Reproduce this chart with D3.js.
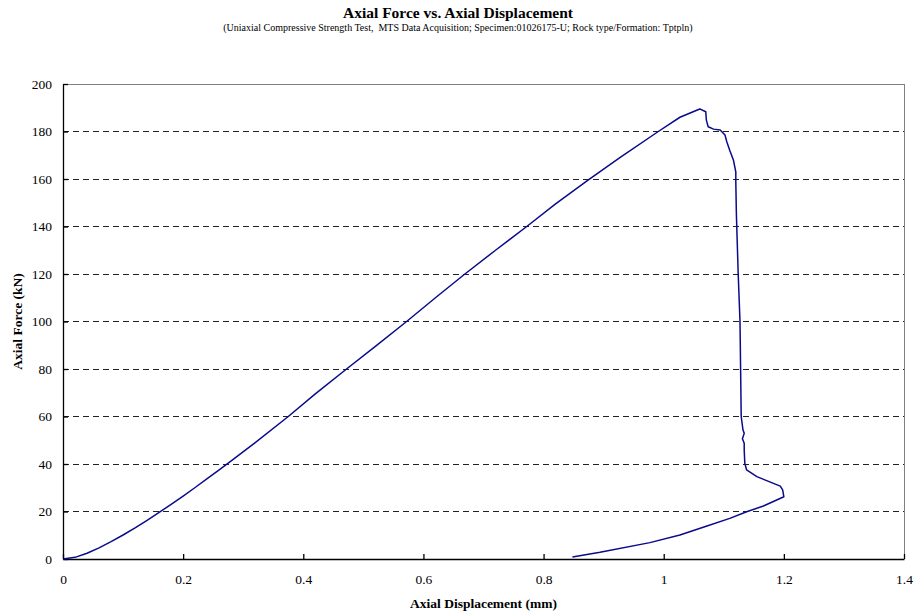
<!DOCTYPE html>
<meta charset="utf-8">
<script src="https://d3js.org/d3.v7.min.js"></script>
<style>
  body { margin: 0; background: #fff; }
</style>
<div id="my_dataviz"></div>
<script>

// displacement (mm), in drawing order
var displacement = [0, 0.02, 0.04, 0.06, 0.08, 0.10, 0.12, 0.14, 0.16, 0.18, 0.20, 0.22, 0.24, 0.26, 0.28,
  0.32, 0.375, 0.42, 0.472, 0.52, 0.572, 0.62, 0.669, 0.72, 0.772, 0.82, 0.874, 0.927, 0.991, 1.027,
  1.047, 1.060, 1.070, 1.071, 1.074, 1.083, 1.094, 1.102, 1.105, 1.110, 1.116, 1.120, 1.120, 1.121,
  1.124, 1.127, 1.128, 1.129, 1.132, 1.134, 1.131, 1.134, 1.134, 1.135, 1.138, 1.155, 1.194, 1.198,
  1.200, 1.166, 1.138, 1.110, 1.072, 1.027, 0.977, 0.894, 0.848]
// axial force (kN)
var force = [0, 0.7, 2.4, 4.7, 7.3, 10.1, 13.1, 16.3, 19.6, 23.0, 26.5, 30.1, 33.8, 37.5, 41.3,
  49, 60, 69.5, 80, 89.5, 100, 110, 120, 130, 140, 149.5, 159.5, 169, 180, 186,
  188.1, 189.5, 188.3, 184.8, 182, 181, 180.6, 178.5, 175.7, 172, 168, 163, 158.9, 145,
  120, 100, 80, 60, 54.3, 52.9, 50.6, 48.7, 45.9, 40.3, 37.5, 34.7, 30.7, 29.1,
  26.2, 22.3, 19.9, 17.1, 13.9, 10.1, 6.9, 2.8, 0.8]

var xTicks = [0, 0.2, 0.4, 0.6, 0.8, 1, 1.2, 1.4]
var yTicks = [0, 20, 40, 60, 80, 100, 120, 140, 160, 180, 200]

var serif = "'Times New Roman', 'Liberation Serif', 'DejaVu Serif', serif";

var margin = {top: 84, right: 10, bottom: 54, left: 63},
  width = 904 - margin.left,
  height = 559 - margin.top;

var svg = d3.select("#my_dataviz")
  .append("svg")
  .attr("width", 914)
  .attr("height", 613)

// titles
svg.append("text")
  .attr("x", 458).attr("y", 18)
  .attr("text-anchor", "middle")
  .attr("font-family", serif)
  .style("font-size", "15.5px").style("font-weight", "bold")
  .text("Axial Force vs. Axial Displacement");
svg.append("text")
  .attr("x", 458).attr("y", 31)
  .attr("text-anchor", "middle")
  .attr("font-family", serif)
  .style("font-size", "10px")
  .style("white-space", "pre")
  .text("(Uniaxial Compressive Strength Test,  MTS Data Acquisition; Specimen:01026175-U; Rock type/Formation: Tptpln)");

var g = svg.append("g")
  .attr("transform", "translate(" + margin.left + "," + margin.top + ")");

var x = d3.scaleLinear().domain([0, 1.4]).range([0, width]);
var y = d3.scaleLinear().domain([0, 200]).range([height, 0]);

// dashed gridlines
g.append("g")
  .selectAll("line")
  .data(yTicks.filter(function(d) { return d > 0 && d < 200; }))
  .enter().append("line")
  .attr("x1", 0).attr("x2", width)
  .attr("y1", function(d) { return y(d); })
  .attr("y2", function(d) { return y(d); })
  .attr("stroke", "#222")
  .attr("stroke-dasharray", "6,4")
  .attr("shape-rendering", "crispEdges");

// frame: top and right in grey
g.append("path")
  .attr("d", "M0,0H" + width + "V" + height)
  .attr("fill", "none")
  .attr("stroke", "#808080")
  .attr("shape-rendering", "crispEdges");

// X axis (ticks point inward)
var xAxis = g.append("g")
  .attr("transform", "translate(0," + height + ")")
  .call(d3.axisBottom(x).tickValues(xTicks).tickFormat(d3.format("")).tickSizeInner(-5).tickSizeOuter(0).tickPadding(15));
// Y axis (ticks point inward)
var yAxis = g.append("g")
  .call(d3.axisLeft(y).tickValues(yTicks).tickSizeInner(-5).tickSizeOuter(0).tickPadding(11));

[xAxis, yAxis].forEach(function(a) {
  a.attr("font-family", serif).attr("font-size", 13.5);
  a.selectAll("path, line").attr("stroke", "#000").attr("stroke-width", 1.3);
  a.selectAll("text").attr("fill", "#000");
});

// curve
var pts = displacement.map(function(d, i) { return [d, force[i]]; });
g.append("path")
  .datum(pts)
  .attr("fill", "none")
  .attr("stroke", "#0a0a8c")
  .attr("stroke-width", 1.5)
  .attr("stroke-linejoin", "round")
  .attr("d", d3.line()
    .x(function(d) { return x(d[0]); })
    .y(function(d) { return y(d[1]); }));

// axis titles
svg.append("text")
  .attr("x", margin.left + width / 2).attr("y", 608)
  .attr("text-anchor", "middle")
  .attr("font-family", serif)
  .style("font-size", "13.5px").style("font-weight", "bold")
  .text("Axial Displacement (mm)");
svg.append("text")
  .attr("transform", "translate(22," + (margin.top + height / 2) + ") rotate(-90)")
  .attr("text-anchor", "middle")
  .attr("font-family", serif)
  .style("font-size", "13.5px").style("font-weight", "bold")
  .text("Axial Force (kN)");

</script>
